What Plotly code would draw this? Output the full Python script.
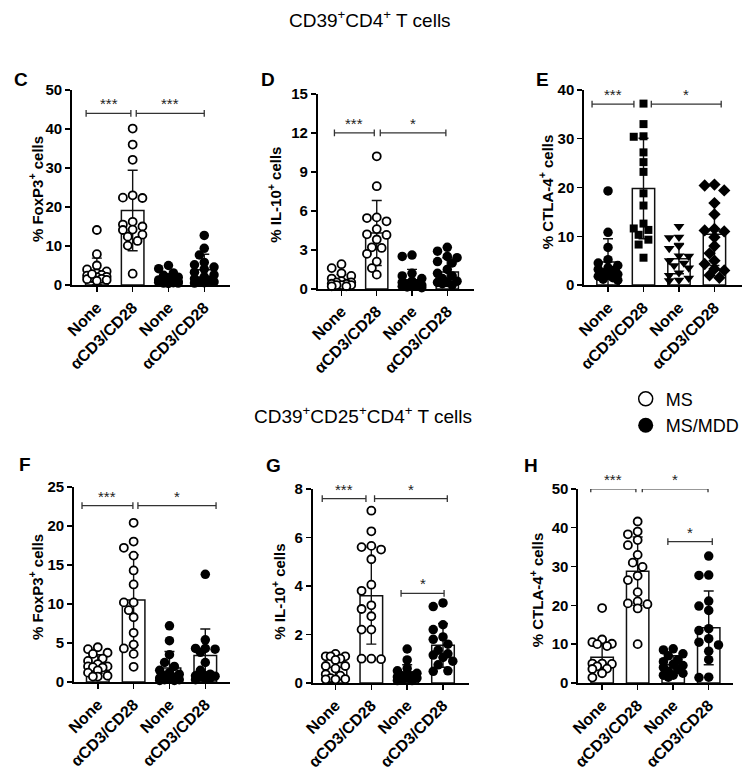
import plotly.graph_objects as go

W, H = 751, 771
FONT = "Liberation Sans, Arial, sans-serif"
CATS = ["None", "αCD3/CD28", "None", "αCD3/CD28"]

# ---------------- data ----------------
# Panel C: % FoxP3+ of CD39+CD4+ T cells
C_ms_none = [14.1, 7.9, 5.0, 4.0, 3.5, 3.0, 2.6, 2.4, 2.1, 2.0, 1.8, 1.6, 1.5, 1.3, 1.1, 2.8]
C_ms_acd3 = [40.1, 36.0, 32.1, 23.0, 22.4, 22.3, 16.2, 15.5, 15.0, 14.2, 14.1, 12.9, 12.4, 11.3, 10.1, 2.9]
C_mdd_none = [5.0, 4.2, 3.1, 2.5, 2.0, 1.6, 1.3, 1.1, 1.0, 0.9, 0.8, 0.7, 0.6, 0.5, 0.5, 0.4]
C_mdd_acd3 = [12.7, 9.4, 7.7, 5.8, 5.2, 4.6, 4.1, 3.3, 2.6, 2.1, 1.6, 1.2, 1.0, 0.8, 0.6, 0.5]
C_mean = [3.5, 19.1, 1.5, 3.9]
C_sd = [3.4, 10.3, 1.4, 4.0]

# Panel D: % IL-10+ of CD39+CD4+ T cells
D_ms_none = [1.9, 1.6, 1.2, 1.0, 0.8, 0.6, 0.5, 0.5, 0.4, 0.4, 0.3, 0.3, 0.3, 0.2, 0.2]
D_ms_acd3 = [10.2, 7.9, 5.5, 5.45, 5.2, 4.6, 4.2, 4.15, 3.8, 3.2, 3.15, 2.7, 2.1, 1.6, 1.1]
D_mdd_none = [2.6, 2.5, 1.2, 1.0, 0.8, 0.6, 0.5, 0.4, 0.35, 0.3, 0.25, 0.2, 0.2, 0.15, 0.1]
D_mdd_acd3 = [3.2, 2.9, 2.5, 2.4, 2.1, 2.0, 1.5, 1.2, 1.0, 0.8, 0.6, 0.5, 0.5, 0.4, 0.3]
D_mean = [0.6, 4.3, 0.7, 1.3]
D_sd = [0.5, 2.5, 0.8, 1.1]

# Panel E: % CTLA-4+ of CD39+CD4+ T cells
E_ms_none = [19.3, 10.8, 7.7, 5.2, 4.5, 4.0, 3.5, 3.2, 3.0, 2.5, 2.2, 2.0, 1.8, 1.5, 1.2, 1.0]
E_ms_acd3 = [37.2, 33.0, 30.5, 30.4, 27.2, 25.2, 23.2, 18.8, 16.3, 12.6, 11.3, 11.6, 10.3, 9.3, 8.3, 5.6]
E_mdd_none = [12.0, 9.8, 9.7, 8.0, 7.5, 6.0, 5.9, 5.0, 4.5, 4.0, 3.5, 2.5, 2.0, 1.4, 1.0, 0.9]
E_mdd_acd3 = [20.6, 20.4, 19.4, 16.8, 14.5, 11.5, 11.2, 11.0, 9.8, 8.0, 6.5, 5.0, 4.3, 3.3, 3.0, 2.0, 1.5]
E_mean = [4.7, 19.8, 5.4, 10.4]
E_sd = [4.8, 10.3, 3.1, 6.4]

# Panel F: % FoxP3+ of CD39+CD25+CD4+ T cells
F_ms_none = [4.45, 4.2, 3.75, 3.6, 3.0, 2.7, 2.3, 2.0, 2.0, 1.9, 1.85, 1.5, 1.2, 0.8, 0.7, 0.7]
F_ms_acd3 = [20.4, 18.0, 17.2, 16.2, 14.3, 12.5, 10.2, 10.2, 9.2, 8.3, 6.3, 4.8, 4.3, 3.6, 1.95]
F_mdd_none = [7.2, 5.3, 3.5, 2.5, 2.0, 1.5, 1.2, 1.0, 0.8, 0.6, 0.5, 0.4, 0.3, 0.3, 0.2, 0.2]
F_mdd_acd3 = [13.8, 5.4, 4.3, 4.3, 4.2, 3.8, 2.5, 1.5, 1.0, 0.8, 0.8, 0.75, 0.7, 0.5, 0.5, 0.3]
F_mean = [2.3, 10.5, 1.8, 3.4]
F_sd = [1.2, 5.8, 2.1, 3.4]

# Panel G: % IL-10+ of CD39+CD25+CD4+ T cells
G_ms_none = [1.2, 1.1, 1.1, 1.1, 1.0, 0.95, 0.7, 0.7, 0.6, 0.36, 0.3, 0.2, 0.16, 0.15, 0.15]
G_ms_acd3 = [7.1, 6.25, 5.65, 5.6, 5.5, 5.1, 4.05, 3.8, 3.2, 3.05, 2.75, 2.2, 2.2, 1.0, 1.0, 0.98]
G_mdd_none = [1.4, 0.95, 0.6, 0.5, 0.4, 0.35, 0.3, 0.3, 0.25, 0.2, 0.2, 0.15, 0.1, 0.1]
G_mdd_acd3 = [3.3, 3.15, 2.4, 2.2, 1.9, 1.8, 1.6, 1.35, 1.2, 1.15, 1.05, 0.9, 0.75, 0.5, 0.48]
G_mean = [0.65, 3.6, 0.4, 1.55]
G_sd = [0.4, 2.0, 0.35, 0.9]

# Panel H: % CTLA-4+ of CD39+CD25+CD4+ T cells
H_ms_none = [19.3, 11.2, 10.5, 10.1, 10.0, 9.5, 5.0, 5.0, 4.9, 4.3, 3.7, 3.6, 2.5, 1.4]
H_ms_acd3 = [41.6, 39.0, 38.3, 36.8, 35.5, 33.0, 31.0, 29.9, 27.6, 26.5, 23.4, 21.0, 20.5, 20.3, 19.2, 10.0]
H_mdd_none = [8.8, 8.5, 7.5, 7.0, 6.0, 5.5, 4.8, 4.5, 4.0, 3.5, 3.0, 2.5, 2.0, 2.0, 1.5]
H_mdd_acd3 = [32.7, 27.8, 27.7, 21.1, 19.8, 18.7, 14.0, 13.5, 11.4, 10.5, 9.8, 8.2, 6.0, 1.5, 1.4]
H_mean = [6.6, 28.8, 4.7, 14.2]
H_sd = [4.0, 8.8, 2.3, 9.5]

# significance brackets: (x from, x to, y, label)
C_sig = [(-0.3, 0.95, 44, "***"), (1.1, 3.0, 44, "***")]
D_sig = [(-0.2, 0.93, 12, "***"), (1.1, 2.96, 12, "*")]
E_sig = [(-0.45, 0.73, 37.1, "***"), (1.22, 3.19, 37.1, "*")]
F_sig = [(-0.44, 0.98, 22.6, "***"), (1.12, 3.3, 22.6, "*")]
G_sig = [(-0.37, 0.85, 7.6, "***"), (1.09, 3.12, 7.6, "*"), (1.83, 3.03, 3.69, "*")]
H_sig = [(-0.32, 0.95, 50, "***"), (1.13, 2.98, 50, "*"), (1.85, 3.1, 36.4, "*")]

# ---------------- layout geometry (pixels) ----------------
panels = [
    dict(letter="C", groups=[C_ms_none, C_ms_acd3, C_mdd_none, C_mdd_acd3], mean=C_mean, sd=C_sd,
         sig=C_sig, ymax=50, dtick=10, ytitle="% FoxP3<sup>+</sup> cells",
         px=(63, 223), py=(83, 283), xr=(-0.69, 3.72),
         letter_xy=(11, 72), title_xy=(26, 185),
         symbols=["circle", "circle", "circle", "circle"], fills=["white", "white", "black", "black"]),
    dict(letter="D", groups=[D_ms_none, D_ms_acd3, D_mdd_none, D_mdd_acd3], mean=D_mean, sd=D_sd,
         sig=D_sig, ymax=15, dtick=3, ytitle="% IL-10<sup>+</sup> cells",
         px=(312, 470), py=(87, 287), xr=(-0.67, 3.75),
         letter_xy=(261, 72), title_xy=(268, 190),
         symbols=["circle", "circle", "circle", "circle"], fills=["white", "white", "black", "black"]),
    dict(letter="E", groups=[E_ms_none, E_ms_acd3, E_mdd_none, E_mdd_acd3], mean=E_mean, sd=E_sd,
         sig=E_sig, ymax=40, dtick=10, ytitle="% CTLA-4<sup>+</sup> cells",
         px=(582, 742), py=(83, 283), xr=(-0.67, 3.78),
         letter_xy=(540, 72), title_xy=(543, 187),
         symbols=["circle", "square", "triangle-down", "diamond"], fills=["black", "black", "black", "black"]),
    dict(letter="F", groups=[F_ms_none, F_ms_acd3, F_mdd_none, F_mdd_acd3], mean=F_mean, sd=F_sd,
         sig=F_sig, ymax=25, dtick=5, ytitle="% FoxP3<sup>+</sup> cells",
         px=(65, 223), py=(490, 690), xr=(-0.66, 3.69),
         letter_xy=(15, 467), title_xy=(26, 593),
         symbols=["circle", "circle", "circle", "circle"], fills=["white", "white", "black", "black"]),
    dict(letter="G", groups=[G_ms_none, G_ms_acd3, G_mdd_none, G_mdd_acd3], mean=G_mean, sd=G_sd,
         sig=G_sig, ymax=8, dtick=2, ytitle="% IL-10<sup>+</sup> cells",
         px=(307, 465), py=(492, 691), xr=(-0.63, 3.72),
         letter_xy=(267, 468), title_xy=(272, 597),
         symbols=["circle", "circle", "circle", "circle"], fills=["white", "white", "black", "black"]),
    dict(letter="H", groups=[H_ms_none, H_ms_acd3, H_mdd_none, H_mdd_acd3], mean=H_mean, sd=H_sd,
         sig=H_sig, ymax=50, dtick=10, ytitle="% CTLA-4<sup>+</sup> cells",
         px=(576, 733), py=(492, 691), xr=(-0.67, 3.69),
         letter_xy=(528, 468), title_xy=(533, 595),
         symbols=["circle", "circle", "circle", "circle"], fills=["white", "white", "black", "black"]),
]


def swarm(values, ppu, ppc, diam=9.0, maxoff=13.0):
    """Deterministic beeswarm: horizontal offsets (category units) avoiding overlap."""
    placed = []
    res = [0.0] * len(values)
    order = sorted(range(len(values)), key=lambda i: -values[i])
    step = diam * 0.55
    cands = [0.0]
    k = 1
    while k * step <= maxoff:
        cands += [-k * step, k * step]
        k += 1
    for i in order:
        y = values[i] * ppu
        best, best_d = 0.0, -1
        for c in cands:
            dmin = min([((c - px) ** 2 + (y - py) ** 2) ** 0.5 for px, py in placed] or [1e9])
            if dmin >= diam * 0.9:
                best = c
                break
            if dmin > best_d:
                best_d, best = dmin, c
        placed.append((best, y))
        res[i] = best / ppc
    return res


fig = go.Figure()
annotations = []
shapes = []

for n, p in enumerate(panels):
    idx = "" if n == 0 else str(n + 1)
    xa, ya = "x" + idx, "y" + idx
    x0p, x1p = p["px"]
    y0p, y1p = p["py"]
    ppu = (y1p - y0p) / p["ymax"]
    ppc = (x1p - x0p) / (p["xr"][1] - p["xr"][0])

    fig.add_trace(go.Bar(
        x=[0, 1, 2, 3], y=p["mean"], width=0.63, xaxis=xa, yaxis=ya,
        marker=dict(color="white", line=dict(color="#111", width=1.5)),
        error_y=dict(type="data", array=p["sd"], color="#111", thickness=1.4, width=5),
        showlegend=False, hoverinfo="skip"))

    for g, vals in enumerate(p["groups"]):
        offs = swarm(vals, ppu, ppc)
        sym = p["symbols"][g]
        size = 8 if sym == "square" else (9.5 if p["fills"][g] == "black" else 8)
        fig.add_trace(go.Scatter(
            x=[g + o for o in offs], y=vals, mode="markers", xaxis=xa, yaxis=ya,
            cliponaxis=False, showlegend=False, hoverinfo="skip",
            marker=dict(symbol=sym, size=size, color=p["fills"][g],
                        line=dict(color="black", width=1.8 if p["fills"][g] == "white" else 0))))

    layout_x = dict(domain=[x0p / W, x1p / W], range=list(p["xr"]), anchor=ya,
                    showline=True, linecolor="black", linewidth=2, ticks="outside",
                    ticklen=5, tickwidth=1.5, tickcolor="black",
                    tickvals=[0, 1, 2, 3], ticktext=CATS, tickangle=-45,
                    tickfont=dict(family=FONT, size=16, color="black", weight="bold"),
                    showgrid=False, zeroline=False, fixedrange=True)
    layout_y = dict(domain=[1 - y1p / H, 1 - y0p / H], range=[0, p["ymax"]], anchor=xa,
                    showline=True, linecolor="black", linewidth=2, ticks="outside",
                    ticklen=5, tickwidth=1.5, tickcolor="black",
                    tick0=0, dtick=p["dtick"],
                    tickfont=dict(family=FONT, size=15, color="black", weight="bold"),
                    showgrid=False, zeroline=False, fixedrange=True)
    fig.layout["xaxis" + idx] = layout_x
    fig.layout["yaxis" + idx] = layout_y

    cap = 3.5 / ppu
    for (bx0, bx1, by, lab) in p["sig"]:
        line = dict(color="#333", width=1.3)
        shapes.append(dict(type="line", xref=xa, yref=ya, x0=bx0, x1=bx1, y0=by, y1=by, line=line))
        shapes.append(dict(type="line", xref=xa, yref=ya, x0=bx0, x1=bx0, y0=by - cap, y1=by + cap, line=line))
        shapes.append(dict(type="line", xref=xa, yref=ya, x0=bx1, x1=bx1, y0=by - cap, y1=by + cap, line=line))
        annotations.append(dict(xref=xa, yref=ya, x=(bx0 + bx1) / 2, y=by, text=lab, showarrow=False,
                                yanchor="bottom", yshift=-1,
                                font=dict(family=FONT, size=15, color="#222")))

    lx, ly = p["letter_xy"]
    annotations.append(dict(xref="paper", yref="paper", x=lx / W, y=1 - ly / H, text=p["letter"],
                            showarrow=False, xanchor="center", yanchor="middle",
                            font=dict(family=FONT, size=19, color="black", weight="bold")))
    tx, ty = p["title_xy"]
    annotations.append(dict(xref="paper", yref="paper", x=tx / W, y=1 - ty / H, text=p["ytitle"],
                            showarrow=False, textangle=-90, xanchor="center", yanchor="middle",
                            font=dict(family=FONT, size=15, color="black", weight="bold")))

annotations.append(dict(xref="paper", yref="paper", x=365 / W, y=1 - 10 / H,
                        text="CD39<sup>+</sup>CD4<sup>+</sup> T cells", showarrow=False,
                        xanchor="center", yanchor="middle",
                        font=dict(family=FONT, size=19, color="black")))
annotations.append(dict(xref="paper", yref="paper", x=358 / W, y=1 - 416 / H,
                        text="CD39<sup>+</sup>CD25<sup>+</sup>CD4<sup>+</sup> T cells", showarrow=False,
                        xanchor="center", yanchor="middle",
                        font=dict(family=FONT, size=19, color="black")))

# legend entries
fig.add_trace(go.Scatter(x=[None], y=[None], mode="markers", name="MS",
                         marker=dict(symbol="circle", size=14, color="white",
                                     line=dict(color="black", width=1.5))))
fig.add_trace(go.Scatter(x=[None], y=[None], mode="markers", name="MS/MDD",
                         marker=dict(symbol="circle", size=15, color="black")))

fig.update_layout(
    width=W, height=H, margin=dict(l=0, r=0, t=0, b=0),
    paper_bgcolor="white", plot_bgcolor="white",
    showlegend=True,
    legend=dict(x=624 / W, y=1 - 381 / H, xanchor="left", yanchor="top",
                font=dict(family=FONT, size=18, color="black"),
                bgcolor="rgba(0,0,0,0)", tracegroupgap=0, itemwidth=30),
    annotations=annotations, shapes=shapes,
    barmode="overlay", bargap=0.37,
)

fig.write_html(
    "out.html",
    config={"displayModeBar": False, "staticPlot": True},
    post_script=("document.documentElement.style.margin='0';"
                 "document.body.style.margin='0';document.body.style.padding='0';"
                 "document.documentElement.style.overflow='hidden';"
                 "document.body.style.overflow='hidden';"),
)
